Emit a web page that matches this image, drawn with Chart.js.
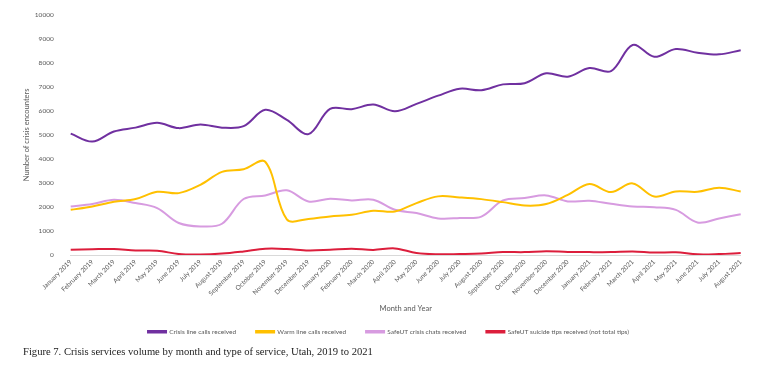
<!DOCTYPE html>
<html>
<head>
<meta charset="utf-8">
<script src="https://cdn.jsdelivr.net/npm/chart.js@4"></script>
<style>
  body { margin: 0; background: #fff; }
  #wrap { position: absolute; left: 0; top: 0; width: 777px; height: 379px; }
  #caption { position: absolute; left: 23px; top: 346px; font-family: "Liberation Serif", "DejaVu Serif", serif; font-size: 10.6px; color: #222; white-space: nowrap; }
</style>
</head>
<body>
<div id="wrap"><canvas id="myChart" width="777" height="379"></canvas></div>
<div id="caption">Figure 7. Crisis services volume by month and type of service, Utah, 2019 to 2021</div>
<script>
// months on the x axis
let months = ['January 2019','February 2019','March 2019','April 2019','May 2019','June 2019','July 2019','August 2019','September 2019','October 2019','November 2019','December 2019',
  'January 2020','February 2020','March 2020','April 2020','May 2020','June 2020','July 2020','August 2020','September 2020','October 2020','November 2020','December 2020',
  'January 2021','February 2021','March 2021','April 2021','May 2021','June 2021','July 2021','August 2021'];

let crisisLine = [5050,4720,5140,5300,5500,5280,5430,5300,5360,6040,5620,5030,6080,6070,6260,5980,6290,6630,6920,6860,7100,7150,7560,7420,7780,7650,8740,8250,8570,8420,8350,8520];
let warmLine   = [1880,2020,2215,2330,2630,2575,2920,3460,3570,3880,1480,1500,1605,1675,1840,1810,2160,2440,2395,2325,2200,2060,2120,2500,2950,2620,2980,2435,2645,2630,2800,2645];
let safeChats  = [2020,2120,2300,2160,1950,1330,1190,1300,2330,2480,2690,2230,2340,2270,2300,1880,1745,1520,1540,1600,2270,2370,2480,2230,2260,2130,2020,1990,1880,1355,1520,1700];
let safeTips   = [220,240,250,190,180,40,20,60,150,260,250,190,220,260,210,275,80,30,40,60,120,120,160,130,120,120,150,100,110,30,40,80];

let seriesNames = ['Crisis line calls received','Warm line calls received','SafeUT crisis chats received','SafeUT suicide tips received (not total tips)'];
let seriesColors = ['#7030a0','#ffc000','#d79be0','#dc1e3c'];

let textColor = '#595959';
let tickFont = { family: 'Lato', size: 6.5 };

function makeSet(i, values) {
    return {
        label: seriesNames[i],
        data: values,
        borderColor: seriesColors[i],
        backgroundColor: seriesColors[i],
        borderWidth: 2,
        pointRadius: 0,
        tension: 0.35,
        fill: false
    };
}

var ctx = document.getElementById('myChart').getContext('2d');
var chart = new Chart(ctx, {
    type: 'line',
    data: {
        labels: months,
        datasets: [
            makeSet(0, crisisLine),
            makeSet(1, warmLine),
            makeSet(2, safeChats),
            makeSet(3, safeTips)
        ]
    },
    options: {
        responsive: false,
        animation: false,
        layout: { padding: { top: 14.7, left: 0, right: 0, bottom: 34 } },
        plugins: {
            tooltip: { enabled: false },
            legend: {
                position: 'bottom',
                labels: {
                    boxWidth: 18,
                    boxHeight: 1.5,
                    padding: 20,
                    color: textColor,
                    font: { family: 'Lato', size: 6.5 }
                }
            }
        },
        scales: {
            x: {
                offset: false,
                grid: { display: false, drawTicks: false },
                border: { display: true, color: '#d9d9d9', width: 1 },
                ticks: {
                    autoSkip: false,
                    minRotation: 45,
                    maxRotation: 45,
                    padding: 3,
                    color: textColor,
                    font: tickFont
                },
                title: {
                    display: true,
                    text: 'Month and Year',
                    color: textColor,
                    font: { family: 'Lato', size: 7.5 },
                    padding: { top: 0, bottom: -5 }
                },
                afterFit: function(scale) { scale.height = 53.5; }
            },
            y: {
                min: 0,
                max: 10000,
                grid: { display: false, drawTicks: false },
                border: { display: false },
                ticks: {
                    stepSize: 1000,
                    padding: 17,
                    color: textColor,
                    font: tickFont,
                    callback: function(v) { return String(v); }
                },
                title: {
                    display: true,
                    text: 'Number of crisis encounters',
                    color: textColor,
                    font: { family: 'Lato', size: 7.5 },
                    padding: { top: 22, bottom: 0 }
                },
                afterFit: function(scale) {
                    scale.width = 70.7;
                    // tick padding is only horizontal here
                    scale.paddingTop = 4;
                    scale.paddingBottom = 4;
                }
            },
            // empty right-hand axis, only keeps the right margin
            yRight: {
                position: 'right',
                display: true,
                grid: { display: false, drawTicks: false },
                border: { display: false },
                ticks: { display: false },
                afterFit: function(scale) { scale.width = 36.3; }
            }
        }
    }
});
</script>
</body>
</html>
